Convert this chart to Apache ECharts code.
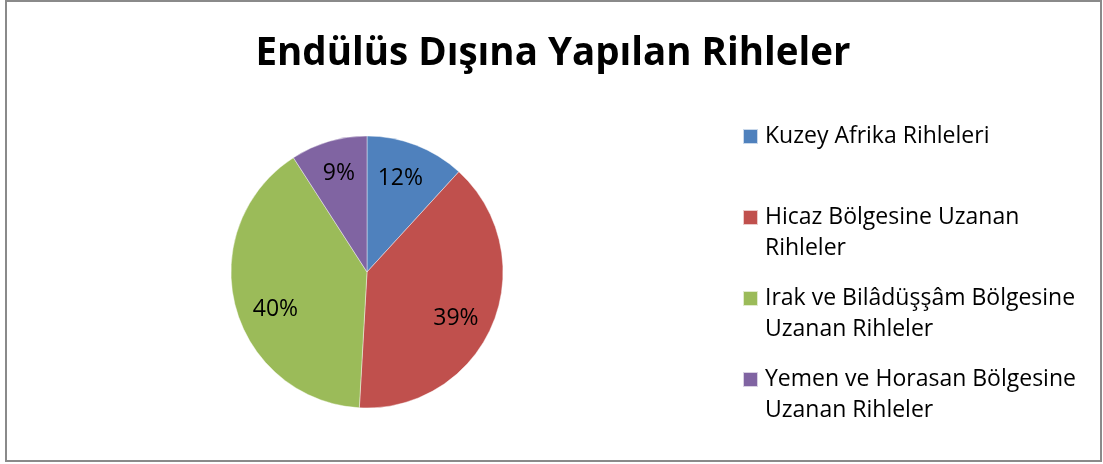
<!DOCTYPE html>
<html>
<head>
<meta charset="utf-8">
<script src="https://cdn.jsdelivr.net/npm/echarts@6/dist/echarts.min.js"></script>
<style>
html,body{margin:0;padding:0;background:#fff;}
#chart{position:absolute;left:0;top:0;width:1103px;height:464px;}
#frame{position:absolute;left:5px;top:0;width:1097px;height:462px;box-sizing:border-box;border:2px solid #8a8a8a;pointer-events:none;}
</style>
</head>
<body>
<div id="chart"></div>
<div id="frame"></div>
<script>
var titleText = 'Endülüs Dışına Yapılan Rihleler';
var categories = ['Kuzey Afrika Rihleleri', 'Hicaz Bölgesine Uzanan Rihleler', 'Irak ve Bilâdüşşâm Bölgesine Uzanan Rihleler', 'Yemen ve Horasan Bölgesine Uzanan Rihleler'];
var legendLines = ['Kuzey Afrika Rihleleri\n ', 'Hicaz Bölgesine Uzanan\nRihleler', 'Irak ve Bilâdüşşâm Bölgesine\nUzanan Rihleler', 'Yemen ve Horasan Bölgesine\nUzanan Rihleler'];
var values = [11.8, 39.1, 40.0, 9.1];
var colors = ['#4F81BD', '#C0504D', '#9BBB59', '#8064A2'];

var FONT = '"Open Sans", sans-serif';
var chart = echarts.init(document.getElementById('chart'), null, {renderer: 'canvas'});

var pieData = categories.map(function (c, i) {
  return {name: c, value: values[i], itemStyle: {color: colors[i]}};
});
var labelData = categories.map(function (c, i) {
  return {name: c, value: values[i]};
});
// small label nudges mimicking the spreadsheet's "best fit" placement
var labelNudgeX = [-4, -6, 8, 1];
var labelNudgeY = [2, 6, 11, 0];

var option = {
  animation: false,
  backgroundColor: '#ffffff',
  title: {
    text: titleText,
    left: 548, top: 30,
    textAlign: 'center',
    textStyle: {fontFamily: FONT, fontWeight: 'bold', fontSize: 38.5, color: '#000'}
  },
  legend: {
    orient: 'vertical',
    left: 737, top: 115,
    itemWidth: 17, itemHeight: 62, itemGap: 17,
    symbolKeepAspect: false,
    icon: 'path://M0,0h0.01v0.01h-0.01Z M0,8H15V23H0Z M17,61.99h0.01v0.01h-0.01Z',
    data: categories,
    formatter: function (name) { return legendLines[categories.indexOf(name)]; },
    textStyle: {fontFamily: FONT, fontSize: 23, color: '#000', lineHeight: 31}
  },
  series: [
    {
      type: 'pie',
      center: [367, 272],
      radius: [0, 136],
      startAngle: 90,
      clockwise: true,
      label: {show: false},
      labelLine: {show: false},
      itemStyle: {borderColor: 'rgba(255,255,255,0.7)', borderWidth: 0.6},
      emphasis: {disabled: true},
      data: pieData
    },
    {
      type: 'pie',
      center: [367, 272],
      radius: [64, 136],
      startAngle: 90,
      clockwise: true,
      silent: true,
      itemStyle: {color: 'rgba(0,0,0,0)'},
      label: {
        show: true, position: 'inside',
        fontFamily: FONT, fontSize: 23, color: '#000',
        formatter: function (p) { return Math.round(p.percent) + '%'; }
      },
      labelLayout: function (p) {
        return {dx: labelNudgeX[p.dataIndex], dy: labelNudgeY[p.dataIndex]};
      },
      labelLine: {show: false},
      emphasis: {disabled: true},
      data: labelData
    }
  ]
};
chart.setOption(option);
</script>
</body>
</html>
